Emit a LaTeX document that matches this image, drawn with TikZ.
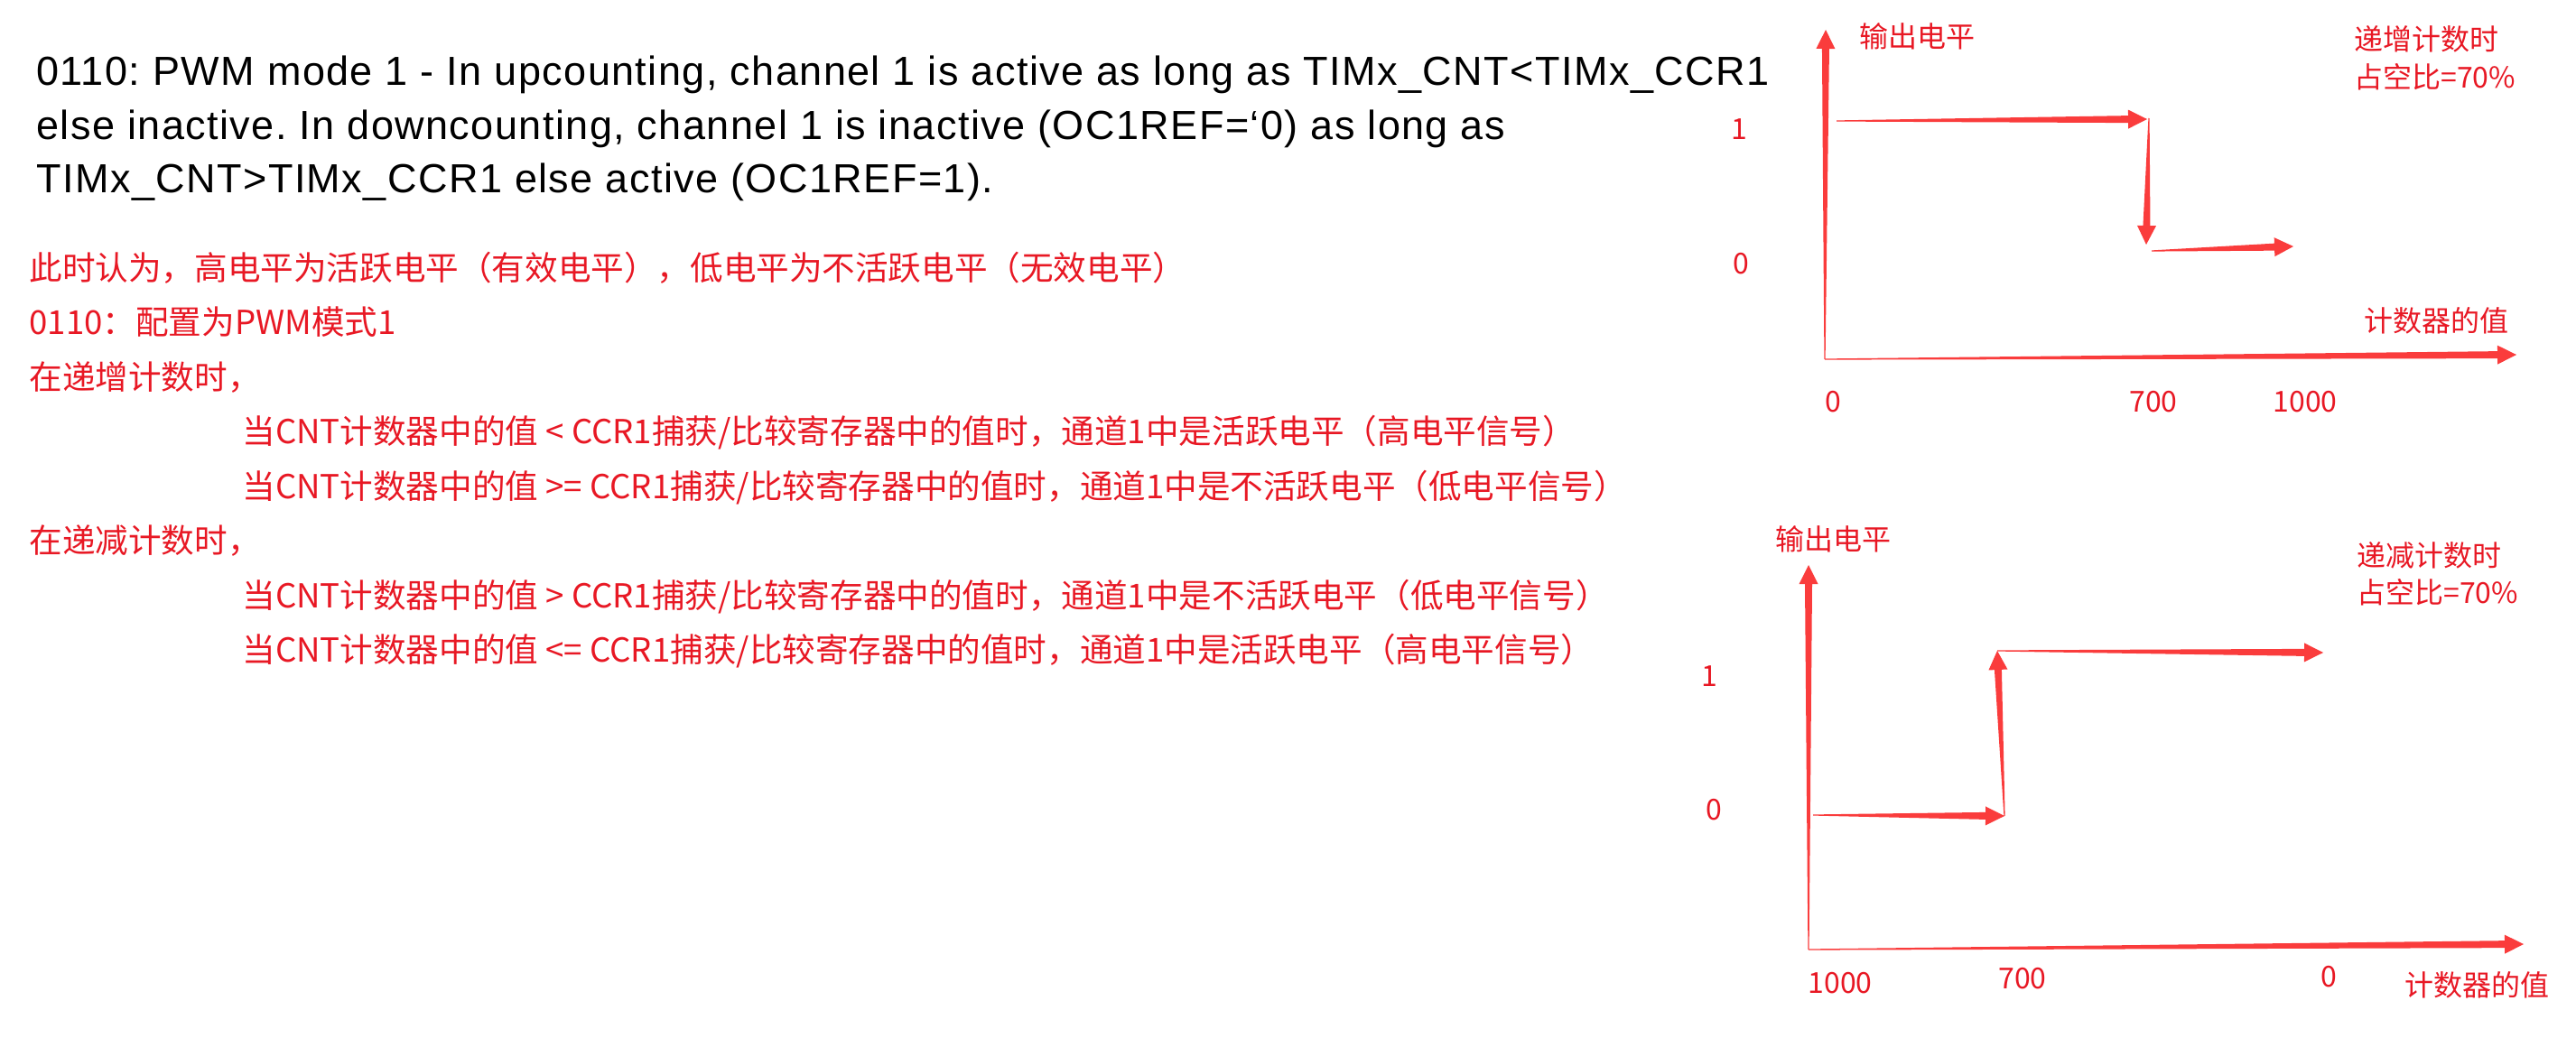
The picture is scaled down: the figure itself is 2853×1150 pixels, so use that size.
\documentclass[tikz,border=0pt]{standalone}
\usepackage{fontspec}
\setmainfont{Liberation Sans}
\newfontfamily\entext{Liberation Sans}[LetterSpace=3.2]
\newfontfamily\cjk{Noto Sans CJK SC}
\usetikzlibrary{calc,positioning}
\definecolor{fontred}{RGB}{232,24,36}
\definecolor{arrowred}{RGB}{250,60,60}
\tikzset{x=0.5pt,y=-0.5pt,
  engtext/.style={anchor=base west,inner sep=0pt,font=\entext\fontsize{22.5}{27}\selectfont},
  redtext/.style={anchor=base west,inner sep=0pt,text=fontred,font=\cjk\fontsize{18.3}{22}\selectfont},
  redlabel/.style={inner sep=0pt,text=fontred,font=\cjk\fontsize{16}{19}\selectfont}}
% tapered arrow from #1 to #2
\newcommand{\sigarrow}[2]{%
  \coordinate (hb) at ($(#2)!10.5pt!(#1)$);
  \fill[arrowred] ($(#1)!0.3pt!90:(#2)$) -- ($(hb)!2pt!90:(#2)$) -- ($(hb)!5.25pt!90:(#2)$) -- (#2)
    -- ($(hb)!5.25pt!-90:(#2)$) -- ($(hb)!2pt!-90:(#2)$) -- ($(#1)!0.3pt!-90:(#2)$) -- cycle;}

\begin{document}
\frenchspacing
\begin{tikzpicture}
\useasboundingbox[fill=white] (0,0) rectangle (2853,1150);
% datasheet text
\node[engtext] (en1) at (40,95) {0110: PWM mode 1 - In upcounting, channel 1 is active as long as TIMx\_CNT<TIMx\_CCR1};
\node[engtext] (en2) at (40,155) {else inactive. In downcounting, channel 1 is inactive (OC1REF=‘0) as long as};
\node[engtext] (en3) at (40,214) {TIMx\_CNT>TIMx\_CCR1 else active (OC1REF=1).};
% notes
\node[redtext] (cn1) at (32,310) {此时认为，高电平为活跃电平（有效电平），低电平为不活跃电平（无效电平）};
\node[redtext] (cn2) at (32,370) {0110：配置为PWM模式1};
\node[redtext] (cn3) at (32,431) {在递增计数时，};
\node[redtext] (cn4) at (268,491) {当CNT计数器中的值 < CCR1捕获/比较寄存器中的值时，通道1中是活跃电平（高电平信号）};
\node[redtext] (cn5) at (268,552) {当CNT计数器中的值 >= CCR1捕获/比较寄存器中的值时，通道1中是不活跃电平（低电平信号）};
\node[redtext] (cn6) at (32,612) {在递减计数时，};
\node[redtext] (cn7) at (268,673) {当CNT计数器中的值 > CCR1捕获/比较寄存器中的值时，通道1中是不活跃电平（低电平信号）};
\node[redtext] (cn8) at (268,733) {当CNT计数器中的值 <= CCR1捕获/比较寄存器中的值时，通道1中是活跃电平（高电平信号）};

% upcounting chart
\coordinate (o1) at (2021,398);
\coordinate (y1) at (2022,33);
\coordinate (x1) at (2787,393);
\sigarrow{o1}{y1}
\sigarrow{o1}{x1}
\coordinate (ua) at (2034,134);
\coordinate (ub) at (2378,132);
\coordinate (uc) at (2380,131);
\coordinate (ud) at (2377,271);
\coordinate (ue) at (2383,278);
\coordinate (uf) at (2540,273);
\sigarrow{ua}{ub}
\sigarrow{uc}{ud}
\sigarrow{ue}{uf}
\node[redlabel] (ulev) at (2123,40) {输出电平};
\node[redlabel,anchor=west] (utitle) at (2607,43) {递增计数时};
\node[redlabel,anchor=west] (uduty) at (2607,85) {占空比=70\%};
\node[redlabel] (uone) at (1926,143) {1};
\node[redlabel] (uzero) at (1928,292) {0};
\node[redlabel] (ucnt) at (2698,355) {计数器的值};
\node[redlabel] (u0) at (2030,445) {0};
\node[redlabel] (u700) at (2385,445) {700};
\node[redlabel] (u1000) at (2553,445) {1000};

% downcounting chart
\coordinate (o2) at (2003,1052);
\coordinate (y2) at (2003,626);
\coordinate (x2) at (2795,1046);
\sigarrow{o2}{y2}
\sigarrow{o2}{x2}
\coordinate (da) at (2008,903);
\coordinate (db) at (2220,904);
\coordinate (dc) at (2220,904);
\coordinate (dd) at (2212,721);
\coordinate (de) at (2212,721);
\coordinate (df) at (2573,723);
\sigarrow{da}{db}
\sigarrow{dc}{dd}
\sigarrow{de}{df}
\node[redlabel] (dlev) at (2030,597) {输出电平};
\node[redlabel,anchor=west] (dtitle) at (2610,615) {递减计数时};
\node[redlabel,anchor=west] (dduty) at (2610,656) {占空比=70\%};
\node[redlabel] (done) at (1893,749) {1};
\node[redlabel] (dzero) at (1898,897) {0};
\node[redlabel] (d1000) at (2038,1089) {1000};
\node[redlabel] (d700) at (2240,1084) {700};
\node[redlabel] (d0) at (2579,1082) {0};
\node[redlabel] (dcnt) at (2743,1091) {计数器的值};
\end{tikzpicture}
\end{document}
